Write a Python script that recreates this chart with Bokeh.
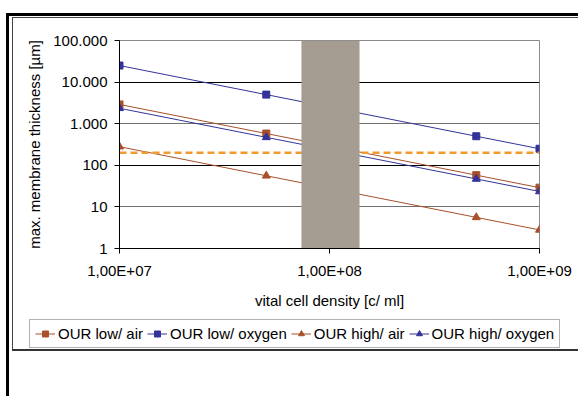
from bokeh.plotting import figure
from bokeh.layouts import column
from bokeh.models import (FixedTicker, Grid, Legend, LegendItem, InlineStyleSheet)
from bokeh.embed import file_html
from bokeh.resources import INLINE

# ---- data ----
density = [1e7, 5e7, 5e8, 1e9]
our_low_air = [2900, 580, 58, 29]
our_low_oxygen = [25000, 5000, 500, 250]
our_high_air = [280, 56, 5.6, 2.8]
our_high_oxygen = [2350, 470, 47, 23.5]

limit_x = [1e7, 1e9]
limit_y = [200, 200]

band_left = [7.35e7]
band_right = [1.39e8]
band_bottom = [1]
band_top = [1e5]

y_ticks = [1, 10, 100, 1000, 10000, 100000]
y_tick_labels = ["1", "10", "100", "1.000", "10.000", "100.000"]
x_ticks = [1e7, 1e8, 1e9]
x_tick_labels = ["1,00E+07", "1,00E+08", "1,00E+09"]

series_labels = ["OUR low/ air", "OUR low/ oxygen", "OUR high/ air", "OUR high/ oxygen"]

grid_dark = [100, 10000]
grid_light = [10, 1000]

FONT = "Liberation Sans"
BROWN = "#A8502A"
BLUE = "#333399"
ORANGE = "#F39A2F"

W = 578
H_MAIN = 316
H_LEG = 80

p = figure(width=W, height=H_MAIN, x_axis_type="log", y_axis_type="log",
           x_range=(1e7, 1e9), y_range=(1, 1e5),
           output_backend="svg", toolbar_location=None,
           min_border_left=119, min_border_right=39,
           min_border_top=40, min_border_bottom=H_MAIN - 248)
p.frame_align = False
p.background_fill_color = "white"
p.border_fill_color = "white"
p.outline_line_color = "#8a8a8a"
p.outline_line_width = 1
p.xgrid.visible = False
p.ygrid.visible = False

g1 = Grid(dimension=1, ticker=FixedTicker(ticks=grid_dark), grid_line_color="black", grid_line_width=1)
g2 = Grid(dimension=1, ticker=FixedTicker(ticks=grid_light), grid_line_color="#707070", grid_line_width=1)
p.add_layout(g1)
p.add_layout(g2)

for ax in (p.xaxis[0], p.yaxis[0]):
    ax.axis_line_color = "black"
    ax.axis_line_width = 1
    ax.major_tick_line_color = "black"
    ax.major_tick_line_width = 1
    ax.major_tick_out = 5
    ax.major_tick_in = 0
    ax.minor_tick_out = 0
    ax.minor_tick_in = 0
    ax.major_label_text_font = FONT
    ax.major_label_text_font_size = "15px"
    ax.major_label_text_color = "black"
    ax.axis_label_text_font = FONT
    ax.axis_label_text_font_size = "15px"
    ax.axis_label_text_font_style = "normal"
    ax.axis_label_text_color = "black"

p.yaxis.ticker = FixedTicker(ticks=y_ticks)
p.yaxis.major_label_overrides = {t: l for t, l in zip(y_ticks, y_tick_labels)}
p.xaxis.ticker = FixedTicker(ticks=x_ticks)
p.xaxis.major_label_overrides = {t: l for t, l in zip(x_ticks, x_tick_labels)}
p.yaxis.major_label_standoff = 7
p.xaxis.major_label_standoff = 8
p.yaxis.axis_label = "max. membrane thickness [µm]"
p.xaxis.axis_label = "vital cell density [c/ ml]"
p.yaxis.axis_label_standoff = 7
p.xaxis.axis_label_standoff = 10

# series
series = [
    (our_low_air, BROWN, "square", 7),
    (our_low_oxygen, BLUE, "square", 7),
    (our_high_air, BROWN, "triangle", 8),
    (our_high_oxygen, BLUE, "triangle", 8),
]
for vals, col, mk, sz in series:
    p.line(density, vals, line_color=col, line_width=1)
    p.scatter(density, vals, marker=mk, size=sz, color=col)

p.line(limit_x, limit_y, line_color=ORANGE, line_width=2.5, line_dash="7 4")

p.quad(left=band_left, right=band_right, bottom=band_bottom, top=band_top,
       fill_color="#A59C92", line_color=None)

# legend strip (separate canvas below the chart so the legend is not clipped)
pl = figure(width=W, height=H_LEG, x_range=(0, 1), y_range=(0, 1),
            x_axis_location=None, y_axis_location=None,
            output_backend="svg", toolbar_location=None,
            min_border_left=0, min_border_right=0, min_border_top=0, min_border_bottom=0)
pl.frame_align = False
pl.grid.visible = False
pl.outline_line_color = None
pl.background_fill_color = "white"
pl.border_fill_color = "white"

items = []
for (vals, col, mk, sz), lab in zip(series, series_labels):
    # same data as the chart; the strip's ranges keep them out of view, only the legend glyphs show
    rl = pl.line(density, vals, line_color=col, line_width=1)
    rs = pl.scatter(density, vals, marker=mk, size=5, color=col)
    items.append(LegendItem(label=lab, renderers=[rl, rs]))

legend = Legend(items=items, orientation="horizontal", location=(29, H_LEG - 348 + H_MAIN),
                label_text_font=FONT, label_text_font_size="15px", label_text_color="black",
                border_line_color="#666666", border_line_width=1,
                background_fill_color="white", background_fill_alpha=1,
                padding=5, spacing=4, glyph_width=20, glyph_height=15, label_height=15,
                label_standoff=3, margin=0)
pl.add_layout(legend)

css = """
:host { position: relative; overflow: hidden; }
:host::before { content: ""; position: absolute; left: 6px; top: 13px; width: 640px; height: 460px;
  border: 3px solid #000; box-sizing: border-box; pointer-events: none; z-index: 100; }
:host::after { content: ""; position: absolute; left: 12px; top: 17px; width: 620px; height: 334px;
  border: 1px solid #444; border-bottom: 2px solid #333; box-sizing: border-box; pointer-events: none; z-index: 100; }
"""
layout = column(p, pl, spacing=0)
layout.stylesheets = [InlineStyleSheet(css=css)]

open("out.html", "w").write(file_html(layout, INLINE))
